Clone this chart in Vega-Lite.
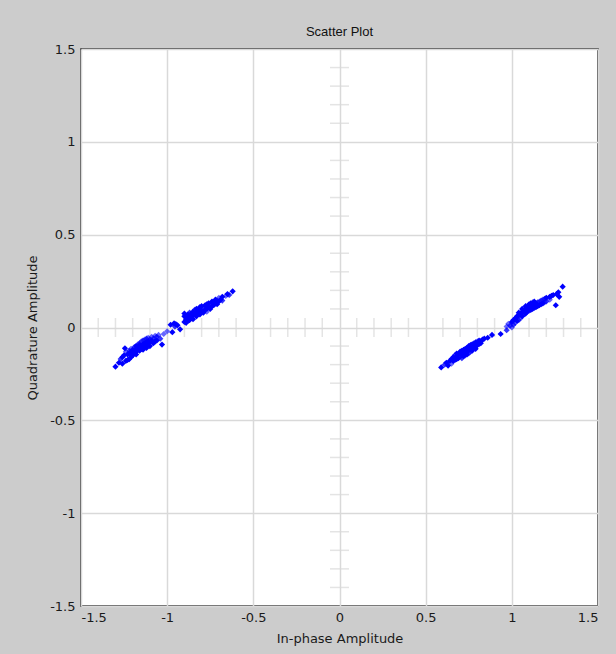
{
  "$schema": "https://vega.github.io/schema/vega-lite/v6.json",
  "width": 517,
  "height": 557,
  "autosize": {"type": "none"},
  "padding": {"left": 81, "top": 49, "right": 18, "bottom": 48},
  "background": "#cccccc",
  "title": {"text": "Scatter Plot", "fontSize": 13, "fontWeight": "normal", "color": "#111111", "font": "Liberation Sans", "offset": 4},
  "config": {
    "view": {"fill": "#ffffff", "stroke": "#222222", "strokeWidth": 1.5},
    "axis": {
      "grid": true, "gridColor": "#d9d9d9", "gridWidth": 1.5,
      "domain": false, "ticks": false,
      "labelFont": "DejaVu Sans", "labelFontSize": 13, "labelColor": "#1a1a1a",
      "titleFont": "DejaVu Sans", "titleFontSize": 13, "titleFontWeight": "normal", "titleColor": "#1a1a1a"
    }
  },
  "datasets": {
    "points": [
      {"i": -1.30, "q": -0.211, "age": 1},
      {"i": -1.28, "q": -0.190, "age": 1},
      {"i": -1.27, "q": -0.170, "age": 2},
      {"i": -1.26, "q": -0.160, "age": 1},
      {"i": -1.26, "q": -0.195, "age": 1},
      {"i": -1.25, "q": -0.150, "age": 1},
      {"i": -1.245, "q": -0.112, "age": 1},
      {"i": -1.24, "q": -0.130, "age": 3},
      {"i": -1.24, "q": -0.180, "age": 1},
      {"i": -1.23, "q": -0.145, "age": 1},
      {"i": -1.23, "q": -0.175, "age": 1},
      {"i": -1.22, "q": -0.140, "age": 1},
      {"i": -1.22, "q": -0.170, "age": 1},
      {"i": -1.22, "q": -0.125, "age": 2},
      {"i": -1.21, "q": -0.130, "age": 1},
      {"i": -1.21, "q": -0.160, "age": 1},
      {"i": -1.21, "q": -0.115, "age": 3},
      {"i": -1.20, "q": -0.120, "age": 1},
      {"i": -1.20, "q": -0.150, "age": 1},
      {"i": -1.20, "q": -0.135, "age": 1},
      {"i": -1.19, "q": -0.105, "age": 2},
      {"i": -1.19, "q": -0.140, "age": 1},
      {"i": -1.19, "q": -0.125, "age": 1},
      {"i": -1.18, "q": -0.100, "age": 1},
      {"i": -1.18, "q": -0.130, "age": 1},
      {"i": -1.18, "q": -0.115, "age": 1},
      {"i": -1.18, "q": -0.145, "age": 1},
      {"i": -1.17, "q": -0.090, "age": 3},
      {"i": -1.17, "q": -0.120, "age": 1},
      {"i": -1.17, "q": -0.105, "age": 1},
      {"i": -1.16, "q": -0.085, "age": 2},
      {"i": -1.16, "q": -0.110, "age": 1},
      {"i": -1.16, "q": -0.125, "age": 1},
      {"i": -1.16, "q": -0.095, "age": 1},
      {"i": -1.15, "q": -0.075, "age": 3},
      {"i": -1.15, "q": -0.100, "age": 1},
      {"i": -1.15, "q": -0.115, "age": 1},
      {"i": -1.14, "q": -0.070, "age": 2},
      {"i": -1.14, "q": -0.090, "age": 1},
      {"i": -1.14, "q": -0.105, "age": 1},
      {"i": -1.14, "q": -0.120, "age": 1},
      {"i": -1.13, "q": -0.065, "age": 3},
      {"i": -1.13, "q": -0.085, "age": 1},
      {"i": -1.13, "q": -0.100, "age": 1},
      {"i": -1.12, "q": -0.060, "age": 2},
      {"i": -1.12, "q": -0.080, "age": 1},
      {"i": -1.12, "q": -0.095, "age": 1},
      {"i": -1.12, "q": -0.110, "age": 1},
      {"i": -1.11, "q": -0.055, "age": 3},
      {"i": -1.11, "q": -0.075, "age": 1},
      {"i": -1.11, "q": -0.090, "age": 1},
      {"i": -1.10, "q": -0.065, "age": 2},
      {"i": -1.10, "q": -0.080, "age": 1},
      {"i": -1.10, "q": -0.100, "age": 1},
      {"i": -1.09, "q": -0.050, "age": 3},
      {"i": -1.09, "q": -0.070, "age": 1},
      {"i": -1.08, "q": -0.060, "age": 2},
      {"i": -1.08, "q": -0.085, "age": 1},
      {"i": -1.07, "q": -0.045, "age": 3},
      {"i": -1.07, "q": -0.075, "age": 1},
      {"i": -1.06, "q": -0.050, "age": 2},
      {"i": -1.06, "q": -0.070, "age": 1},
      {"i": -1.05, "q": -0.040, "age": 3},
      {"i": -1.04, "q": -0.060, "age": 2},
      {"i": -1.03, "q": -0.092, "age": 1},
      {"i": -1.02, "q": -0.035, "age": 3},
      {"i": -1.00, "q": -0.020, "age": 3},
      {"i": -0.98, "q": 0.015, "age": 1},
      {"i": -0.97, "q": -0.025, "age": 1},
      {"i": -0.96, "q": 0.022, "age": 1},
      {"i": -0.955, "q": 0.005, "age": 2},
      {"i": -0.95, "q": 0.018, "age": 1},
      {"i": -0.94, "q": 0.012, "age": 1},
      {"i": -0.925, "q": -0.010, "age": 1},
      {"i": -0.90, "q": 0.030, "age": 1},
      {"i": -0.90, "q": 0.060, "age": 1},
      {"i": -0.90, "q": 0.075, "age": 1},
      {"i": -0.89, "q": 0.045, "age": 1},
      {"i": -0.89, "q": 0.025, "age": 1},
      {"i": -0.88, "q": 0.050, "age": 1},
      {"i": -0.88, "q": 0.070, "age": 1},
      {"i": -0.88, "q": 0.035, "age": 1},
      {"i": -0.87, "q": 0.060, "age": 1},
      {"i": -0.87, "q": 0.040, "age": 1},
      {"i": -0.87, "q": 0.080, "age": 2},
      {"i": -0.86, "q": 0.050, "age": 1},
      {"i": -0.86, "q": 0.075, "age": 1},
      {"i": -0.85, "q": 0.065, "age": 1},
      {"i": -0.85, "q": 0.085, "age": 1},
      {"i": -0.85, "q": 0.045, "age": 1},
      {"i": -0.84, "q": 0.070, "age": 1},
      {"i": -0.84, "q": 0.095, "age": 2},
      {"i": -0.83, "q": 0.060, "age": 1},
      {"i": -0.83, "q": 0.085, "age": 1},
      {"i": -0.83, "q": 0.100, "age": 1},
      {"i": -0.82, "q": 0.075, "age": 1},
      {"i": -0.82, "q": 0.095, "age": 1},
      {"i": -0.81, "q": 0.085, "age": 1},
      {"i": -0.81, "q": 0.110, "age": 1},
      {"i": -0.81, "q": 0.070, "age": 1},
      {"i": -0.80, "q": 0.090, "age": 1},
      {"i": -0.80, "q": 0.115, "age": 1},
      {"i": -0.79, "q": 0.080, "age": 1},
      {"i": -0.79, "q": 0.105, "age": 2},
      {"i": -0.78, "q": 0.095, "age": 1},
      {"i": -0.78, "q": 0.120, "age": 1},
      {"i": -0.77, "q": 0.100, "age": 1},
      {"i": -0.77, "q": 0.125, "age": 1},
      {"i": -0.77, "q": 0.085, "age": 3},
      {"i": -0.76, "q": 0.110, "age": 1},
      {"i": -0.76, "q": 0.130, "age": 1},
      {"i": -0.75, "q": 0.100, "age": 1},
      {"i": -0.75, "q": 0.120, "age": 2},
      {"i": -0.74, "q": 0.115, "age": 1},
      {"i": -0.74, "q": 0.140, "age": 1},
      {"i": -0.73, "q": 0.120, "age": 1},
      {"i": -0.73, "q": 0.135, "age": 3},
      {"i": -0.72, "q": 0.130, "age": 1},
      {"i": -0.72, "q": 0.150, "age": 1},
      {"i": -0.71, "q": 0.125, "age": 1},
      {"i": -0.71, "q": 0.145, "age": 2},
      {"i": -0.70, "q": 0.140, "age": 1},
      {"i": -0.70, "q": 0.160, "age": 3},
      {"i": -0.69, "q": 0.150, "age": 1},
      {"i": -0.68, "q": 0.145, "age": 2},
      {"i": -0.68, "q": 0.165, "age": 1},
      {"i": -0.66, "q": 0.170, "age": 3},
      {"i": -0.65, "q": 0.180, "age": 1},
      {"i": -0.64, "q": 0.175, "age": 2},
      {"i": -0.62, "q": 0.195, "age": 1},
      {"i": 0.59, "q": -0.215, "age": 1},
      {"i": 0.61, "q": -0.200, "age": 2},
      {"i": 0.62, "q": -0.190, "age": 1},
      {"i": 0.63, "q": -0.205, "age": 1},
      {"i": 0.64, "q": -0.180, "age": 1},
      {"i": 0.65, "q": -0.170, "age": 1},
      {"i": 0.65, "q": -0.195, "age": 3},
      {"i": 0.66, "q": -0.160, "age": 1},
      {"i": 0.66, "q": -0.180, "age": 1},
      {"i": 0.67, "q": -0.150, "age": 2},
      {"i": 0.67, "q": -0.175, "age": 1},
      {"i": 0.68, "q": -0.155, "age": 1},
      {"i": 0.68, "q": -0.170, "age": 1},
      {"i": 0.68, "q": -0.140, "age": 1},
      {"i": 0.69, "q": -0.145, "age": 1},
      {"i": 0.69, "q": -0.165, "age": 1},
      {"i": 0.70, "q": -0.130, "age": 1},
      {"i": 0.70, "q": -0.155, "age": 3},
      {"i": 0.70, "q": -0.140, "age": 1},
      {"i": 0.71, "q": -0.125, "age": 1},
      {"i": 0.71, "q": -0.150, "age": 1},
      {"i": 0.71, "q": -0.165, "age": 2},
      {"i": 0.72, "q": -0.120, "age": 1},
      {"i": 0.72, "q": -0.140, "age": 1},
      {"i": 0.72, "q": -0.155, "age": 1},
      {"i": 0.73, "q": -0.115, "age": 1},
      {"i": 0.73, "q": -0.135, "age": 1},
      {"i": 0.73, "q": -0.150, "age": 2},
      {"i": 0.74, "q": -0.110, "age": 1},
      {"i": 0.74, "q": -0.130, "age": 1},
      {"i": 0.74, "q": -0.145, "age": 1},
      {"i": 0.75, "q": -0.100, "age": 1},
      {"i": 0.75, "q": -0.120, "age": 1},
      {"i": 0.75, "q": -0.140, "age": 3},
      {"i": 0.76, "q": -0.095, "age": 1},
      {"i": 0.76, "q": -0.115, "age": 1},
      {"i": 0.76, "q": -0.130, "age": 2},
      {"i": 0.77, "q": -0.090, "age": 1},
      {"i": 0.77, "q": -0.110, "age": 1},
      {"i": 0.77, "q": -0.125, "age": 1},
      {"i": 0.78, "q": -0.085, "age": 2},
      {"i": 0.78, "q": -0.105, "age": 1},
      {"i": 0.79, "q": -0.080, "age": 1},
      {"i": 0.79, "q": -0.100, "age": 1},
      {"i": 0.79, "q": -0.115, "age": 1},
      {"i": 0.80, "q": -0.075, "age": 3},
      {"i": 0.80, "q": -0.095, "age": 1},
      {"i": 0.81, "q": -0.070, "age": 1},
      {"i": 0.81, "q": -0.090, "age": 2},
      {"i": 0.82, "q": -0.075, "age": 1},
      {"i": 0.82, "q": -0.085, "age": 1},
      {"i": 0.83, "q": -0.065, "age": 1},
      {"i": 0.84, "q": -0.060, "age": 1},
      {"i": 0.86, "q": -0.055, "age": 1},
      {"i": 0.885, "q": -0.040, "age": 1},
      {"i": 0.935, "q": -0.035, "age": 1},
      {"i": 0.97, "q": 0.005, "age": 3},
      {"i": 0.97, "q": -0.015, "age": 2},
      {"i": 0.98, "q": 0.020, "age": 3},
      {"i": 0.99, "q": 0.010, "age": 2},
      {"i": 1.00, "q": 0.030, "age": 1},
      {"i": 1.00, "q": 0.000, "age": 3},
      {"i": 1.01, "q": 0.040, "age": 1},
      {"i": 1.01, "q": 0.015, "age": 2},
      {"i": 1.02, "q": 0.050, "age": 1},
      {"i": 1.02, "q": 0.025, "age": 3},
      {"i": 1.03, "q": 0.060, "age": 1},
      {"i": 1.03, "q": 0.035, "age": 1},
      {"i": 1.04, "q": 0.065, "age": 1},
      {"i": 1.04, "q": 0.040, "age": 2},
      {"i": 1.04, "q": 0.080, "age": 1},
      {"i": 1.05, "q": 0.070, "age": 1},
      {"i": 1.05, "q": 0.050, "age": 3},
      {"i": 1.06, "q": 0.085, "age": 1},
      {"i": 1.06, "q": 0.060, "age": 1},
      {"i": 1.06, "q": 0.100, "age": 1},
      {"i": 1.07, "q": 0.090, "age": 1},
      {"i": 1.07, "q": 0.070, "age": 2},
      {"i": 1.08, "q": 0.100, "age": 1},
      {"i": 1.08, "q": 0.075, "age": 1},
      {"i": 1.08, "q": 0.115, "age": 1},
      {"i": 1.09, "q": 0.105, "age": 1},
      {"i": 1.09, "q": 0.085, "age": 1},
      {"i": 1.10, "q": 0.110, "age": 1},
      {"i": 1.10, "q": 0.090, "age": 2},
      {"i": 1.10, "q": 0.125, "age": 1},
      {"i": 1.11, "q": 0.115, "age": 1},
      {"i": 1.11, "q": 0.095, "age": 1},
      {"i": 1.11, "q": 0.130, "age": 1},
      {"i": 1.12, "q": 0.120, "age": 1},
      {"i": 1.12, "q": 0.100, "age": 1},
      {"i": 1.12, "q": 0.135, "age": 3},
      {"i": 1.13, "q": 0.125, "age": 1},
      {"i": 1.13, "q": 0.105, "age": 2},
      {"i": 1.13, "q": 0.140, "age": 1},
      {"i": 1.14, "q": 0.130, "age": 1},
      {"i": 1.14, "q": 0.110, "age": 1},
      {"i": 1.15, "q": 0.135, "age": 2},
      {"i": 1.15, "q": 0.115, "age": 1},
      {"i": 1.16, "q": 0.140, "age": 3},
      {"i": 1.16, "q": 0.120, "age": 1},
      {"i": 1.17, "q": 0.145, "age": 2},
      {"i": 1.17, "q": 0.125, "age": 1},
      {"i": 1.18, "q": 0.150, "age": 3},
      {"i": 1.18, "q": 0.130, "age": 1},
      {"i": 1.19, "q": 0.155, "age": 2},
      {"i": 1.19, "q": 0.135, "age": 3},
      {"i": 1.20, "q": 0.160, "age": 1},
      {"i": 1.20, "q": 0.140, "age": 2},
      {"i": 1.22, "q": 0.165, "age": 1},
      {"i": 1.22, "q": 0.150, "age": 3},
      {"i": 1.23, "q": 0.170, "age": 1},
      {"i": 1.24, "q": 0.175, "age": 1},
      {"i": 1.255, "q": 0.120, "age": 1},
      {"i": 1.26, "q": 0.180, "age": 1},
      {"i": 1.27, "q": 0.190, "age": 1},
      {"i": 1.275, "q": 0.165, "age": 1},
      {"i": 1.295, "q": 0.220, "age": 1}
    ],
    "cross": [
      {"v": -1.4}, {"v": -1.3}, {"v": -1.2}, {"v": -1.1}, {"v": -0.9}, {"v": -0.8}, {"v": -0.7}, {"v": -0.6},
      {"v": -0.4}, {"v": -0.3}, {"v": -0.2}, {"v": -0.1}, {"v": 0.1}, {"v": 0.2}, {"v": 0.3}, {"v": 0.4},
      {"v": 0.6}, {"v": 0.7}, {"v": 0.8}, {"v": 0.9}, {"v": 1.1}, {"v": 1.2}, {"v": 1.3}, {"v": 1.4}
    ]
  },
  "layer": [
    {
      "data": {"name": "cross"},
      "mark": {"type": "tick", "orient": "horizontal", "size": 19, "thickness": 1.5, "color": "#d9d9d9"},
      "encoding": {
        "x": {"datum": 0, "type": "quantitative", "scale": {"domain": [-1.5, 1.5], "nice": false},
              "axis": {"values": [-1.5, -1, -0.5, 0, 0.5, 1, 1.5], "labelExpr": "'' + datum.value", "title": "In-phase Amplitude", "labelPadding": 5, "titlePadding": 8}},
        "y": {"field": "v", "type": "quantitative", "scale": {"domain": [-1.5, 1.5], "nice": false},
              "axis": {"values": [-1.5, -1, -0.5, 0, 0.5, 1, 1.5], "labelExpr": "'' + datum.value", "title": "Quadrature Amplitude", "labelPadding": 6, "titlePadding": 10}}
      }
    },
    {
      "data": {"name": "cross"},
      "mark": {"type": "tick", "orient": "vertical", "size": 19, "thickness": 1.5, "color": "#d9d9d9"},
      "encoding": {
        "x": {"field": "v", "type": "quantitative"},
        "y": {"datum": 0, "type": "quantitative"}
      }
    },
    {
      "data": {"name": "points"},
      "mark": {"type": "point", "shape": "diamond", "filled": true, "size": 38, "color": "#0000ff"},
      "encoding": {
        "x": {"field": "i", "type": "quantitative"},
        "y": {"field": "q", "type": "quantitative"},
        "opacity": {"field": "age", "type": "ordinal", "scale": {"domain": [1, 2, 3], "range": [1, 0.6, 0.35]}, "legend": null}
      }
    }
  ]
}
